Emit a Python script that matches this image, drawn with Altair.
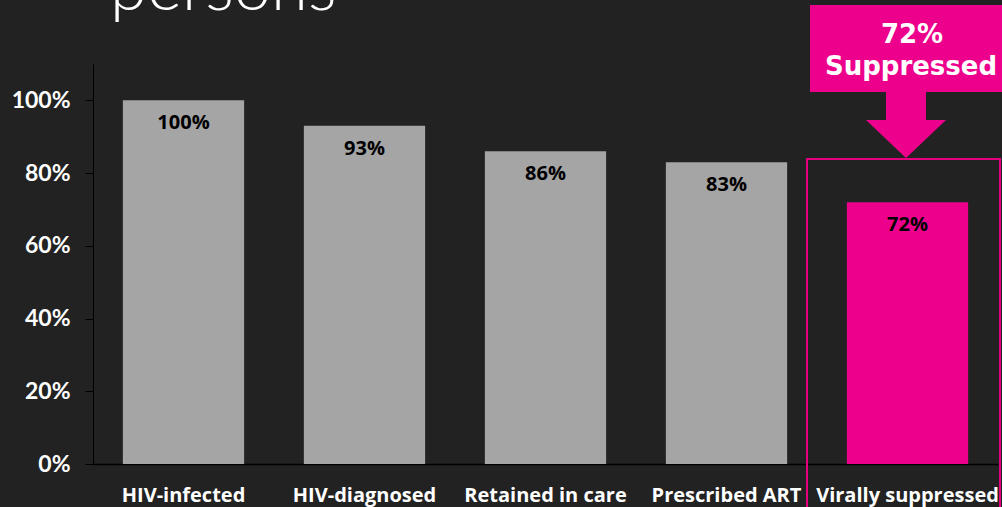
import altair as alt
import pandas as pd

categories = ["HIV-infected", "HIV-diagnosed", "Retained in care", "Prescribed ART", "Virally suppressed"]
values = [1.00, 0.93, 0.86, 0.83, 0.72]
labels = ["100%", "93%", "86%", "83%", "72%"]
groups = ["other", "other", "other", "other", "highlight"]
y_ticks = [0, 0.2, 0.4, 0.6, 0.8, 1.0]

GRAY = "#A5A5A5"
MAGENTA = "#EC008C"
BG = "#222222"

df = pd.DataFrame({"category": categories, "value": values, "label": labels, "group": groups})

x_enc = alt.X("category:N", sort=None, title=None,
              scale=alt.Scale(paddingInner=0.33, paddingOuter=0.165),
              axis=alt.Axis(labelAngle=0, labelFont="Open Sans", labelFontWeight="bold",
                            labelFontSize=20, labelColor="white", labelPadding=21, labelLimit=0,
                            ticks=False, tickSize=0, domainColor="black", domainWidth=1.5))
y_enc = alt.Y("value:Q", title=None,
              scale=alt.Scale(domain=[0, 1.1], nice=False),
              axis=alt.Axis(values=y_ticks, format=".0%", labelFont="Lato", labelFontWeight="bold",
                            labelFontSize=23, labelColor="white", labelPadding=15,
                            tickColor="black", tickSize=8, domainColor="black", grid=False))

base = alt.Chart(df)

bars = base.mark_bar().encode(
    x=x_enc, y=y_enc,
    color=alt.Color("group:N", scale=alt.Scale(domain=["other", "highlight"], range=[GRAY, MAGENTA]), legend=None),
)

texts = base.mark_text(baseline="middle", dy=23, font="Open Sans", fontWeight="bold",
                       fontSize=20, color="black").encode(
    x=alt.X("category:N", sort=None), y="value:Q", text="label:N")

one = alt.Data(values=[{"a": 1}])

title = alt.Chart(one).mark_text(align="left", baseline="alphabetic", font="Lato", fontWeight=300,
                                 fontSize=67, color="white").encode(
    x=alt.value(17), y=alt.value(-54), text=alt.value("persons"))

box = alt.Chart(one).mark_rect(color=MAGENTA).encode(
    x=alt.value(717), x2=alt.value(912), y=alt.value(-59), y2=alt.value(28))
shaft = alt.Chart(one).mark_rect(color=MAGENTA).encode(
    x=alt.value(793), x2=alt.value(833), y=alt.value(27), y2=alt.value(57))
head = alt.Chart(one).mark_point(shape="M -1 -0.475 L 1 -0.475 L 0 0.475 Z", filled=True,
                                 color=MAGENTA, opacity=1, strokeWidth=0).encode(
    x=alt.value(813), y=alt.value(75), size=alt.value(6400))
outline = alt.Chart(one).mark_rect(fill=None, stroke="#E5007F", strokeWidth=2).encode(
    x=alt.value(714), x2=alt.value(907), y=alt.value(95), y2=alt.value(460))

call1 = alt.Chart(one).mark_text(align="center", baseline="alphabetic", font="DejaVu Sans",
                                 fontWeight="bold", fontSize=26, color="white").encode(
    x=alt.value(819), y=alt.value(-21), text=alt.value("72%"))
call2 = alt.Chart(one).mark_text(align="center", baseline="alphabetic", font="DejaVu Sans",
                                 fontWeight="bold", fontSize=26, color="white").encode(
    x=alt.value(818), y=alt.value(11), text=alt.value("Suppressed"))

chart = alt.layer(bars, texts, title, box, shaft, head, outline, call1, call2).properties(
    width=905, height=400,
    autosize=alt.AutoSizeParams(type="none"),
    padding={"left": 93, "top": 64, "right": 4, "bottom": 43},
).configure(background=BG).configure_view(stroke=None)

chart.save("out.html", embed_options={"renderer": "svg", "actions": False})
